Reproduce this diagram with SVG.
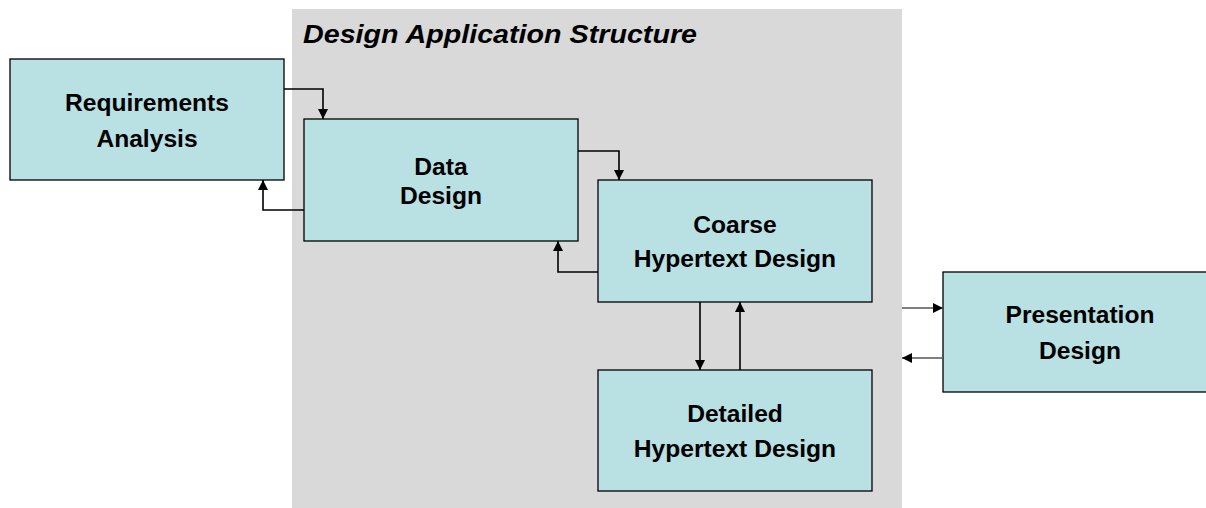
<svg xmlns="http://www.w3.org/2000/svg" width="1206" height="508" viewBox="0 0 1206 508">
<style>
.box{fill:#b9e0e3;stroke:#000;stroke-width:1.3}
.lbl{font-family:"Liberation Sans",Arial,sans-serif;font-weight:bold;font-size:24.6px;fill:#000;text-anchor:middle}
.title{font-family:"Liberation Sans",Arial,sans-serif;font-weight:bold;font-style:italic;font-size:26px;fill:#000}
.c{fill:none;stroke:#000;stroke-width:1.6}
.g{fill:none;stroke:#555;stroke-width:1.6}
</style>
<defs>
<marker id="ah" viewBox="0 0 10 10" refX="10" refY="5" markerWidth="11" markerHeight="10" markerUnits="userSpaceOnUse" orient="auto">
<path d="M0,0 L10,5 L0,10 Z" fill="#000"/>
</marker>
</defs>
<rect width="1206" height="508" fill="#fff"/>
<g id="structure">
<rect x="292" y="9" width="610" height="499" fill="#d9d9d9"/>
<text class="title" x="303" y="43" textLength="394" lengthAdjust="spacingAndGlyphs">Design Application Structure</text>
</g>
<g id="requirements">
<rect class="box" x="10" y="59" width="274" height="121"/>
<text class="lbl" x="147" y="111">Requirements</text>
<text class="lbl" x="147" y="147">Analysis</text>
</g>
<g id="data">
<rect class="box" x="304" y="119" width="274" height="122"/>
<text class="lbl" x="441" y="175">Data</text>
<text class="lbl" x="441" y="204">Design</text>
</g>
<g id="coarse">
<rect class="box" x="598" y="180" width="274" height="122"/>
<text class="lbl" x="735" y="233">Coarse</text>
<text class="lbl" x="735" y="267">Hypertext Design</text>
</g>
<g id="detailed">
<rect class="box" x="598" y="370" width="274" height="121"/>
<text class="lbl" x="735" y="422">Detailed</text>
<text class="lbl" x="735" y="457">Hypertext Design</text>
</g>
<g id="presentation">
<rect class="box" x="943" y="272" width="274" height="120"/>
<text class="lbl" x="1080" y="323">Presentation</text>
<text class="lbl" x="1080" y="359">Design</text>
</g>
<g id="connectors">
<path class="c" d="M284,89 H323 V119" marker-end="url(#ah)"/>
<path class="c" d="M304,210 H263 V180" marker-end="url(#ah)"/>
<path class="c" d="M578,151 H619 V180" marker-end="url(#ah)"/>
<path class="c" d="M598,272 H558 V241" marker-end="url(#ah)"/>
<path class="c" d="M700,302 V370" marker-end="url(#ah)"/>
<path class="c" d="M740,370 V302" marker-end="url(#ah)"/>
<path class="g" d="M902,308 H943" marker-end="url(#ah)"/>
<path class="g" d="M943,358 H902" marker-end="url(#ah)"/>
</g>
</svg>
